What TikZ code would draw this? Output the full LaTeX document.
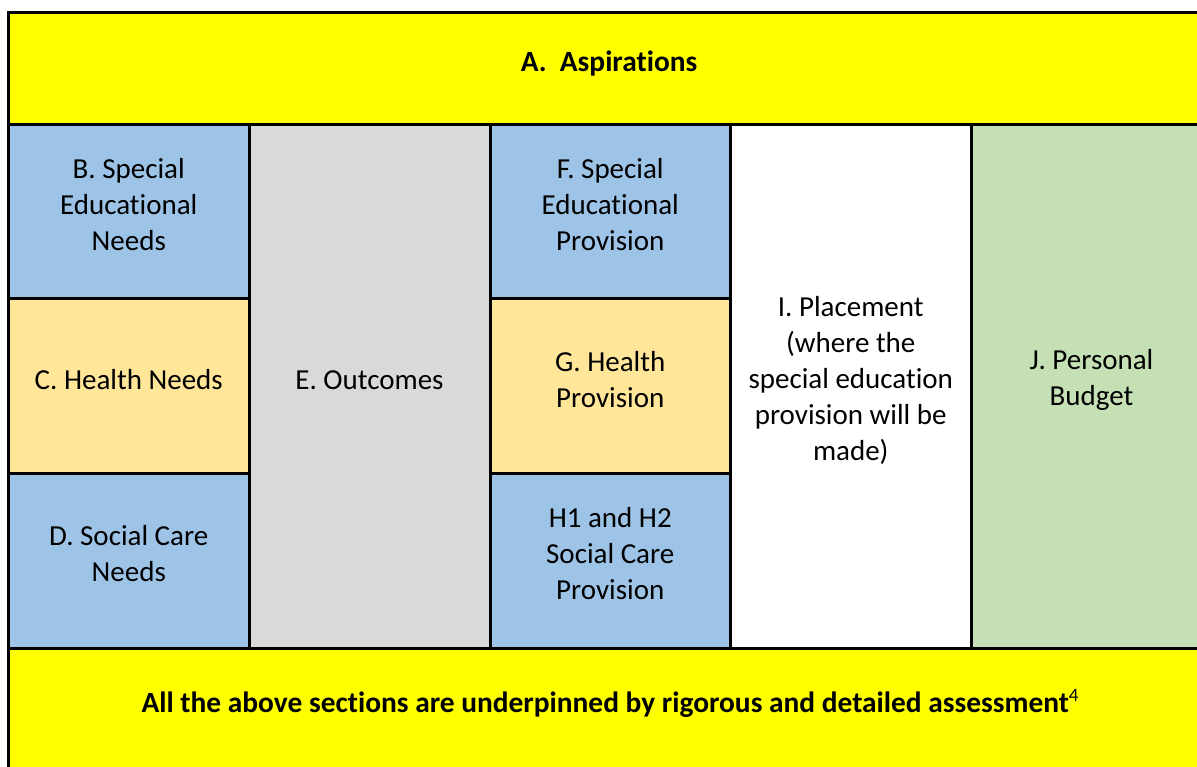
\documentclass[tikz,border=0pt]{standalone}
\usepackage{fontspec}
\setmainfont{Carlito}[Ligatures=NoCommon]
\usepackage{tikz}

\definecolor{aspyellow}{HTML}{FFFF00}
\definecolor{needblue}{HTML}{9DC3E6}
\definecolor{healthgold}{HTML}{FFE699}
\definecolor{outgrey}{HTML}{D9D9D9}
\definecolor{budgetgreen}{HTML}{C5E0B4}

\begin{document}
\begin{tikzpicture}[x=1pt, y=-1pt,
	rule/.style={draw=black, line width=3pt},
	cellname/.style={align=center, inner sep=0pt, font=\fontsize{29}{36}\selectfont},
	headname/.style={cellname, font=\fontsize{29.4}{36}\selectfont\bfseries}]
	\useasboundingbox (0,0) rectangle (1197,767);
	
	% cell backgrounds
	\fill[aspyellow] (8.5,13) rectangle (1212,125);
	\fill[needblue] (8.5,125) rectangle (249,298.5);
	\fill[healthgold] (8.5,298.5) rectangle (249,473);
	\fill[needblue] (8.5,473) rectangle (249,648);
	\fill[outgrey] (249,125) rectangle (490,648);
	\fill[needblue] (490,125) rectangle (730.5,298.5);
	\fill[healthgold] (490,298.5) rectangle (730.5,473);
	\fill[needblue] (490,473) rectangle (730.5,648);
	\fill[white] (730.5,125) rectangle (971,648);
	\fill[budgetgreen] (971,125) rectangle (1212,648);
	\fill[aspyellow] (8.5,648) rectangle (1212,770);
	
	% table rules
	\draw[rule] (8.5,13) rectangle (1212,770);
	\draw[rule] (8.5,125) -- (1212,125);
	\draw[rule] (8.5,648) -- (1212,648);
	\foreach \colx in {249,490,730.5,971}
		\draw[rule] (\colx,125) -- (\colx,648);
	\draw[rule] (8.5,298.5) -- (249,298.5);
	\draw[rule] (8.5,473) -- (249,473);
	\draw[rule] (490,298.5) -- (730.5,298.5);
	\draw[rule] (490,473) -- (730.5,473);
	
	% section labels
	\node[headname] (a) at (609,63) {A.\ \ Aspirations};
	\node[cellname] (b) at (128.75,205) {B. Special\\Educational\\Needs};
	\node[cellname] (c) at (128.75,380) {C. Health Needs};
	\node[cellname] (d) at (128.75,554) {D. Social Care\\Needs};
	\node[cellname] (e) at (369.5,380) {E. Outcomes};
	\node[cellname] (f) at (610.25,205) {F. Special\\Educational\\Provision};
	\node[cellname] (g) at (610.25,380) {G. Health\\Provision};
	\node[cellname] (h) at (610.25,554) {H1 and H2\\Social Care\\Provision};
	\node[cellname] (i) at (850.75,380) {I. Placement\\(where the\\special education\\provision will be\\made)};
	\node[cellname] (j) at (1091.5,380) {J. Personal\\Budget};
	\node[headname] (assess) at (610,703) {All the above sections are underpinned by rigorous and detailed assessment{\mdseries\raisebox{11pt}{\fontsize{19}{19}\selectfont 4}}};
\end{tikzpicture}
\end{document}
